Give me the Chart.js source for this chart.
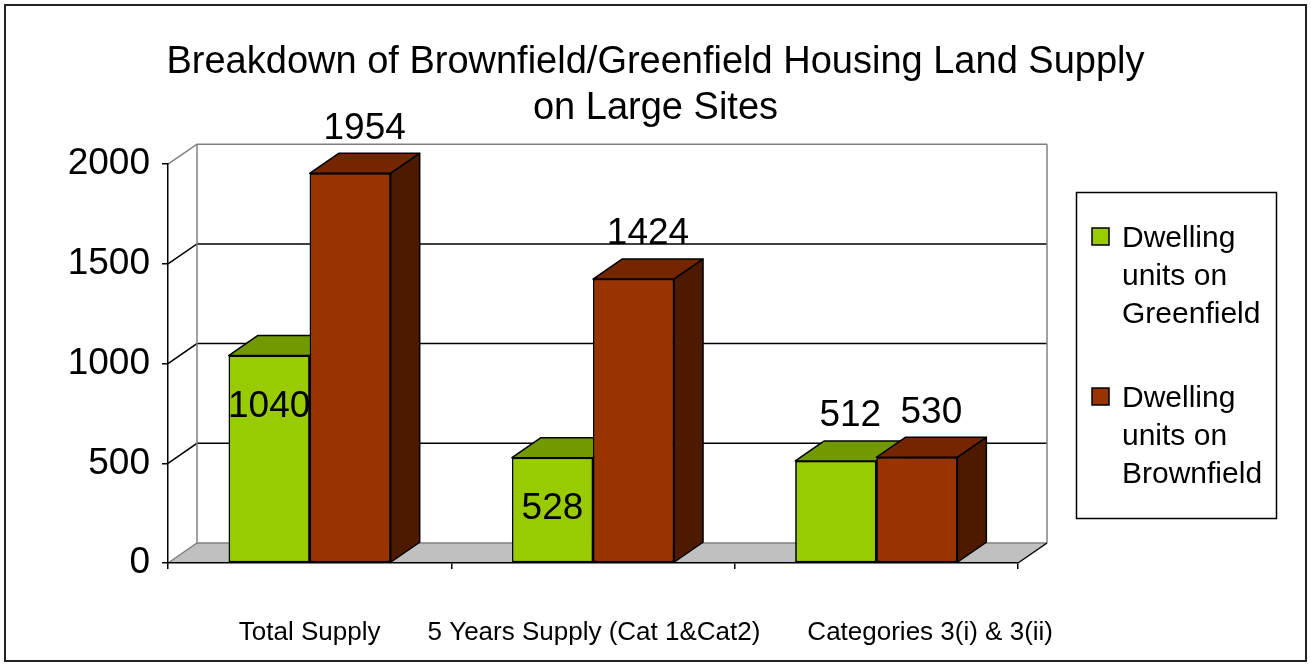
<!DOCTYPE html>
<html>
<head>
<meta charset="utf-8">
<script src="https://cdn.jsdelivr.net/npm/chart.js@4.4.1/dist/chart.umd.min.js"></script>
<style>
  html, body { margin: 0; padding: 0; background: #fff; }
  canvas { display: block; }
</style>
</head>
<body>
<canvas id="chart" width="1311" height="666"></canvas>
<script>
  // ── Data ────────────────────────────────────────────────────────────────
  const categories  = ["Total Supply", "5 Years Supply (Cat 1&Cat2)", "Categories 3(i) & 3(ii)"];
  const greenfield  = [1040, 528, 512];
  const brownfield  = [1954, 1424, 530];
  const seriesNames = ["Dwelling units on Greenfield", "Dwelling units on Brownfield"];
  const yTicks      = [0, 500, 1000, 1500, 2000];
  const titleLines  = ["Breakdown of Brownfield/Greenfield Housing Land Supply", "on Large Sites"];

  // ── Styles ──────────────────────────────────────────────────────────────
  const FONT = "'Liberation Sans', Arial, sans-serif";
  const DX = 29, DY = 20; // 3D depth offset of walls and bars
  const faces = [
    { front: "#99cc00", top: "#739900", side: "#4d6600" },
    { front: "#993300", top: "#732600", side: "#4d1a00" }
  ];

  Chart.defaults.font.family = FONT;
  Chart.defaults.color = "#000";

  const line = (ctx, pts, color, w) => {
    ctx.beginPath();
    pts.forEach((p, i) => i ? ctx.lineTo(p[0], p[1]) : ctx.moveTo(p[0], p[1]));
    ctx.strokeStyle = color; ctx.lineWidth = w; ctx.stroke();
  };

  // Back wall, side wall gridlines and grey floor, drawn before the axes
  const walls = {
    id: "walls",
    beforeDraw(chart) {
      const { ctx } = chart;
      const x = chart.scales.x, y = chart.scales.y;
      const L = x.left, R = x.right;
      const top = yTicks[yTicks.length - 1];
      const T = y.getPixelForValue(top), B = y.getPixelForValue(0);
      ctx.save();
      ctx.beginPath();
      ctx.moveTo(L, B); ctx.lineTo(R, B); ctx.lineTo(R + DX, B - DY); ctx.lineTo(L + DX, B - DY);
      ctx.closePath();
      ctx.fillStyle = "#c0c0c0"; ctx.fill();
      line(ctx, [[L, B], [L + DX, B - DY], [R + DX, B - DY]], "#808080", 1.5);
      line(ctx, [[R, B], [R + DX, B - DY]], "#000", 1.5);
      yTicks.forEach(v => {
        if (v === 0) return;
        const py = y.getPixelForValue(v);
        line(ctx, [[L, py], [L + DX, py - DY], [R + DX, py - DY]], v === top ? "#808080" : "#000", 1.5);
      });
      line(ctx, [[L + DX, T - DY], [L + DX, B - DY]], "#808080", 1.5);
      line(ctx, [[R + DX, T - DY], [R + DX, B - DY]], "#808080", 1.5);
      ctx.restore();
    }
  };

  // Redraw bars series by series so each one's top and side faces sit in the right order
  const depth = {
    id: "depth",
    afterDatasetsDraw(chart) {
      const { ctx } = chart;
      ctx.save();
      chart.data.datasets.forEach((ds, di) => {
        const meta = chart.getDatasetMeta(di);
        const f = faces[di];
        meta.data.forEach(el => {
          el.draw(ctx);
          const { x, y, base, width } = el.getProps(["x", "y", "base", "width"], true);
          const l = x - width / 2, r = x + width / 2;
          ctx.lineWidth = 1.5; ctx.strokeStyle = "#000"; ctx.lineJoin = "round";
          ctx.beginPath();
          ctx.moveTo(l, y); ctx.lineTo(r, y); ctx.lineTo(r + DX, y - DY); ctx.lineTo(l + DX, y - DY);
          ctx.closePath();
          ctx.fillStyle = f.top; ctx.fill(); ctx.stroke();
          ctx.beginPath();
          ctx.moveTo(r, y); ctx.lineTo(r + DX, y - DY); ctx.lineTo(r + DX, base - DY); ctx.lineTo(r, base);
          ctx.closePath();
          ctx.fillStyle = f.side; ctx.fill(); ctx.stroke();
        });
      });
      ctx.restore();
    }
  };

  // Value labels: above the bar, or inside the front face when the next bar would hide it
  const valueLabels = {
    id: "valueLabels",
    afterDatasetsDraw(chart) {
      const { ctx } = chart;
      const size = 37;
      ctx.save();
      ctx.font = `${size}px ${FONT}`;
      ctx.fillStyle = "#000";
      ctx.textAlign = "center";
      ctx.textBaseline = "alphabetic";
      const sets = chart.data.datasets;
      sets.forEach((ds, di) => {
        const meta = chart.getDatasetMeta(di);
        meta.data.forEach((el, i) => {
          const next = sets[di + 1] ? chart.getDatasetMeta(di + 1).data[i] : null;
          const hidden = next && next.y < el.y - size;
          const cy = hidden ? el.y + 48 : el.y - 48;
          const cx = hidden ? el.x : el.x + DX / 2;
          ctx.fillText(String(ds.data[i]), cx, cy + size * 0.358);
        });
      });
      ctx.restore();
    }
  };

  // Category labels under the floor; pushed right when they would run into the previous one
  const categoryLabels = {
    id: "categoryLabels",
    afterDraw(chart) {
      const { ctx } = chart;
      const x = chart.scales.x;
      const gap = 47;
      ctx.save();
      ctx.font = `26px ${FONT}`;
      ctx.fillStyle = "#000";
      ctx.textAlign = "left";
      ctx.textBaseline = "middle";
      let prevRight = -Infinity;
      categories.forEach((c, i) => {
        const w = ctx.measureText(c).width;
        const left = Math.max(x.getPixelForValue(i) - w / 2, prevRight + gap);
        ctx.fillText(c, left, x.bottom - 103 + 70);
        prevRight = left + w;
      });
      ctx.restore();
    }
  };

  // Boxed legend with wrapped labels on the right
  const legendBox = {
    id: "legendBox",
    afterDraw(chart) {
      const { ctx } = chart;
      const box = { x: 1076.5, y: 192.5, w: 200, h: 326 };
      const size = 30, lh = 38;
      ctx.save();
      ctx.strokeStyle = "#000"; ctx.lineWidth = 1.5;
      ctx.strokeRect(box.x, box.y, box.w, box.h);
      ctx.font = `${size}px ${FONT}`;
      ctx.fillStyle = "#000";
      ctx.textBaseline = "alphabetic";
      let base = 247;
      chart.data.datasets.forEach((ds, di) => {
        const words = ds.label.split(" ");
        const lines = [];
        let cur = "";
        words.forEach(w => {
          const t = cur ? cur + " " + w : w;
          if (cur && ctx.measureText(t).width > 150) { lines.push(cur); cur = w; } else cur = t;
        });
        lines.push(cur);
        ctx.fillStyle = ds.backgroundColor;
        ctx.fillRect(1092, base - 19, 17, 17);
        ctx.strokeRect(1092, base - 19, 17, 17);
        ctx.fillStyle = "#000";
        lines.forEach((t, k) => ctx.fillText(t, 1122, base + k * lh));
        base += lines.length * lh + 46;
      });
      ctx.restore();
    }
  };

  // Outer chart frame
  const frame = {
    id: "frame",
    afterDraw(chart) {
      const { ctx } = chart;
      ctx.save();
      ctx.strokeStyle = "#222"; ctx.lineWidth = 2;
      ctx.strokeRect(5, 5, chart.width - 10, chart.height - 10);
      ctx.restore();
    }
  };

  new Chart(document.getElementById("chart"), {
    type: "bar",
    data: {
      labels: categories,
      datasets: [
        { label: seriesNames[0], data: greenfield, backgroundColor: faces[0].front,
          borderColor: "#000", borderWidth: 1.5, borderSkipped: false },
        { label: seriesNames[1], data: brownfield, backgroundColor: faces[1].front,
          borderColor: "#000", borderWidth: 1.5, borderSkipped: false }
      ]
    },
    options: {
      responsive: false,
      animation: false,
      events: [],
      categoryPercentage: 0.572,
      barPercentage: 1,
      layout: { padding: 0 },
      plugins: {
        legend: { display: false },
        tooltip: { enabled: false },
        title: {
          display: true,
          text: titleLines,
          color: "#000",
          font: { size: 38, weight: "normal", lineHeight: 1.2 },
          padding: { top: 40, bottom: 33 }
        }
      },
      scales: {
        x: {
          grid: { drawOnChartArea: false, color: "#000", tickLength: 6, offset: true, lineWidth: 1.5 },
          border: { color: "#000", width: 1.5 },
          ticks: { display: false },
          afterFit: s => { s.height = 103; }
        },
        y: {
          min: 0,
          max: 2000,
          afterBuildTicks: s => { s.ticks = yTicks.map(v => ({ value: v })); },
          grid: { drawOnChartArea: false, color: "#000", tickLength: 6, lineWidth: 1.5 },
          border: { color: "#000", width: 1.5 },
          ticks: { color: "#000", font: { size: 37 }, padding: 12, callback: v => String(v) },
          afterFit: s => { s.width = 168; }
        },
        // empty right-hand axis that only reserves the space used by the legend box
        legendSpace: {
          type: "linear",
          position: "right",
          display: true,
          grid: { display: false },
          border: { display: false },
          ticks: { display: false },
          afterFit: s => { s.width = 293; }
        }
      }
    },
    plugins: [walls, depth, valueLabels, categoryLabels, legendBox, frame]
  });
</script>
</body>
</html>
